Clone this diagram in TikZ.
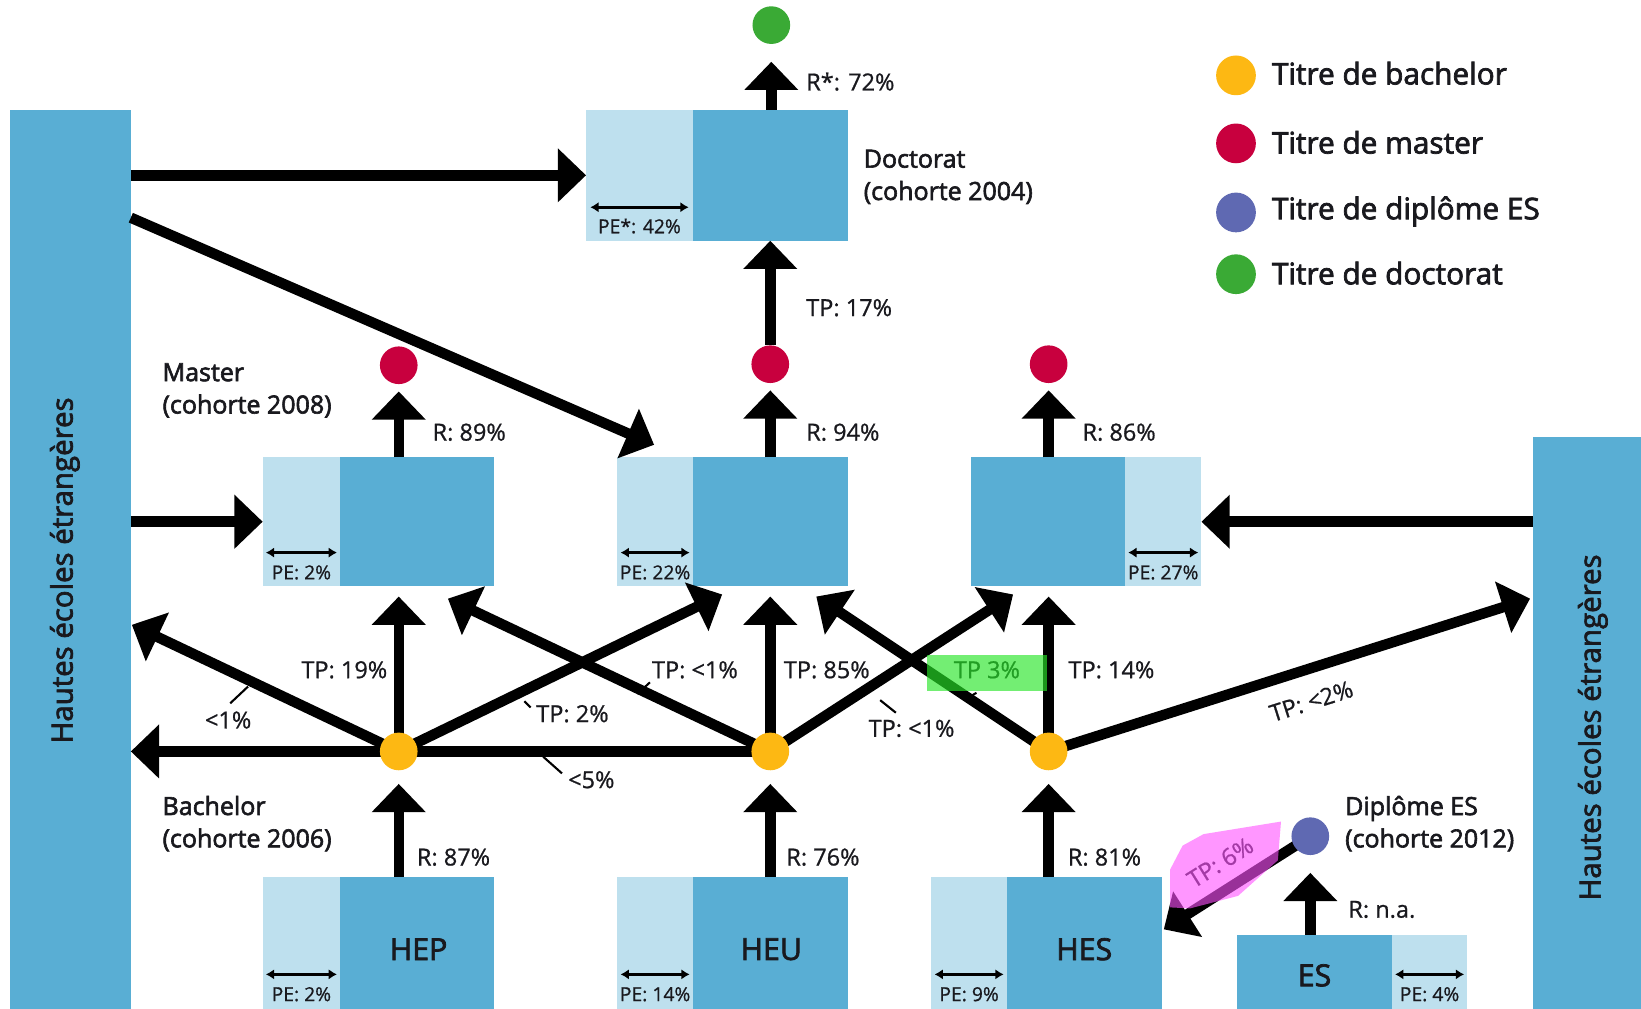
\documentclass[tikz,border=0pt]{standalone}
\usepackage{fontspec}
\setmainfont{Open Sans}[FakeBold=0.8]
\newfontfamily\semib{Open Sans}[FakeBold=2.4]
\usetikzlibrary{arrows.meta,fit}
\definecolor{dkblue}{RGB}{89,174,212}
\definecolor{ltblue}{RGB}{190,224,238}
\definecolor{bachy}{RGB}{253,184,19}
\definecolor{mastr}{RGB}{200,0,62}
\definecolor{esdot}{RGB}{95,105,178}
\definecolor{docg}{RGB}{58,170,53}
\definecolor{hlgreen}{RGB}{40,230,40}
\definecolor{hlpink}{RGB}{255,80,255}
\definecolor{txt}{RGB}{25,25,30}
\pgfdeclarelayer{back}
\pgfdeclarelayer{mid}
\pgfdeclarelayer{top}
\pgfsetlayers{back,mid,main,top}
\begin{document}
\begin{tikzpicture}[x=0.02cm,y=-0.02cm,
  dbox/.style={fill=dkblue,draw=none,inner sep=0,outer sep=0},
  lbox/.style={fill=ltblue,draw=none,inner sep=0,outer sep=0},
  dot/.style={circle,draw=none,inner sep=0,outer sep=0,minimum size=0.72cm},
  legdot/.style={circle,draw=none,inner sep=0,outer sep=0,minimum size=0.76cm},
  flow/.style={line width=0.2cm,-{Triangle[width=1cm,length=0.54cm]}},
  tick/.style={line width=0.04cm},
  pearrow/.style={line width=0.05cm,{Latex[width=0.2cm,length=0.16cm]}-{Latex[width=0.2cm,length=0.16cm]}},
  flowlbl/.style={font=\fontsize{12.8}{15}\selectfont,text=txt,inner sep=0},
  cohort/.style={font=\semib\fontsize{13.6}{17.6}\selectfont,text=txt,align=left,anchor=west,inner sep=0},
  leglbl/.style={font=\semib\fontsize{16.2}{18}\selectfont,text=txt,anchor=west,inner sep=0},
  boxlbl/.style={font=\semib\fontsize{16.5}{18}\selectfont,text=txt,inner sep=0},
  pelbl/.style={font=\fontsize{10.5}{12}\selectfont,text=txt,inner sep=0},
  barlbl/.style={font=\semib\fontsize{16}{18}\selectfont,text=txt,rotate=90,inner sep=0}]
\useasboundingbox (0,0) rectangle (1568,964);

\begin{pgfonlayer}{back}
\fill[white] (0,0) rectangle (1568,964);
% bars
\node[dbox,fit={(10,105) (125,964)}] (lbar) {};
\node[dbox,fit={(1465,418) (1568,964)}] (rbar) {};
% doctorat
\node[lbox,fit={(560,105) (662,230)}] (docpe) {};
\node[dbox,fit={(662,105) (810,230)}] (doc) {};
% master
\node[lbox,fit={(251,437) (325,560)}] (mheppe) {};
\node[dbox,fit={(325,437) (472,560)}] (mhep) {};
\node[lbox,fit={(590,437) (662,560)}] (mheupe) {};
\node[dbox,fit={(662,437) (810,560)}] (mheu) {};
\node[dbox,fit={(928,437) (1075,560)}] (mhes) {};
\node[lbox,fit={(1075,437) (1148,560)}] (mhespe) {};
% bachelor / ES
\node[lbox,fit={(251,838) (325,964)}] (bheppe) {};
\node[dbox,fit={(325,838) (472,964)}] (bhep) {};
\node[lbox,fit={(590,838) (662,964)}] (bheupe) {};
\node[dbox,fit={(662,838) (810,964)}] (bheu) {};
\node[lbox,fit={(890,838) (962,964)}] (bhespe) {};
\node[dbox,fit={(962,838) (1110,964)}] (bhes) {};
\node[dbox,fit={(1182,893) (1330,964)}] (es) {};
\node[lbox,fit={(1330,893) (1402,964)}] (espe) {};
\end{pgfonlayer}

% dots
\node[dot,fill=docg] (gdoc) at (737,24) {};
\node[dot,fill=mastr] (rhep) at (381,349) {};
\node[dot,fill=mastr] (rheu) at (736,348) {};
\node[dot,fill=mastr] (rhes) at (1002,348) {};
\node[dot,fill=bachy] (yhep) at (381,718) {};
\node[dot,fill=bachy] (yheu) at (736,718) {};
\node[dot,fill=bachy] (yhes) at (1002,718) {};
\node[dot,fill=esdot] (pes) at (1252,799) {};

% arrow tips
\coordinate (tA) at (126,597);
\coordinate (tB) at (381,570);
\coordinate (tC) at (690,568);
\coordinate (tD) at (428,572);
\coordinate (tE) at (736,570);
\coordinate (tF) at (968,568);
\coordinate (tG) at (780,570);
\coordinate (tH) at (1002,570);
\coordinate (tI) at (1462,572);
\coordinate (tJ) at (1112,888);
\coordinate (tK) at (625,425);
\coordinate (sK) at (125,208);

\begin{pgfonlayer}{mid}
% doctorate
\draw[flow,shorten >=0.34cm] (doc.north -| gdoc) -- (gdoc);
\draw[flow] (rheu) -- (doc.south -| rheu);
% master -> titles
\draw[flow,shorten >=0.14cm] (mhep.north -| rhep) -- (rhep);
\draw[flow,shorten >=0.14cm] (mheu.north -| rheu) -- (rheu);
\draw[flow,shorten >=0.14cm] (mhes.north -| rhes) -- (rhes);
% foreign
\draw[flow] (lbar.east |- docpe.west) -- (docpe.west);
\draw[flow] (sK) -- (tK);
\draw[flow] (lbar.east |- mheppe.west) -- (mheppe.west);
\draw[flow] (rbar.west |- mhespe.east) -- (mhespe.east);
% bachelor boxes -> titles
\draw[flow,shorten >=0.26cm] (bhep.north -| yhep) -- (yhep);
\draw[flow,shorten >=0.26cm] (bheu.north -| yheu) -- (yheu);
\draw[flow,shorten >=0.26cm] (bhes.north -| yhes) -- (yhes);
\draw[flow,shorten >=0.34cm] (es.north -| pes) -- (pes);
% transitions
\draw[flow] (yheu.center) -- (lbar.east |- yheu);
\draw[flow] (yhep.center) -- (tA);
\draw[flow] (yhep.center) -- (tB);
\draw[flow] (yhep.center) -- (tC);
\draw[flow] (yheu.center) -- (tD);
\draw[flow] (yheu.center) -- (tE);
\draw[flow] (yheu.center) -- (tF);
\draw[flow] (yhes.center) -- (tG);
\draw[flow] (yhes.center) -- (tH);
\draw[flow] (yhes.center) -- (tI);
\draw[flow] (pes.center) -- (tJ);
% ticks
\draw[tick] (220,672) -- (237,656);
\draw[tick] (501,670) -- (507,676);
\draw[tick] (519,723) -- (537,739);
\draw[tick] (609,663) -- (621,652);
\draw[tick] (841,669) -- (856,681);
\draw[tick] (921,669) -- (933,662);
% PE markers
\draw[pearrow] ([shift={(4,-32)}]docpe.south west) -- ([shift={(-4,-32)}]docpe.south east);
\draw[pearrow] ([shift={(3,-32)}]mheppe.south west) -- ([shift={(-3,-32)}]mheppe.south east);
\draw[pearrow] ([shift={(3,-32)}]mheupe.south west) -- ([shift={(-3,-32)}]mheupe.south east);
\draw[pearrow] ([shift={(3,-32)}]mhespe.south west) -- ([shift={(-3,-32)}]mhespe.south east);
\draw[pearrow] ([shift={(3,-33)}]bheppe.south west) -- ([shift={(-3,-33)}]bheppe.south east);
\draw[pearrow] ([shift={(3,-33)}]bheupe.south west) -- ([shift={(-3,-33)}]bheupe.south east);
\draw[pearrow] ([shift={(3,-33)}]bhespe.south west) -- ([shift={(-3,-33)}]bhespe.south east);
\draw[pearrow] ([shift={(3,-33)}]espe.south west) -- ([shift={(-3,-33)}]espe.south east);
\end{pgfonlayer}

% PE labels
\node[pelbl] at ([shift={(0,-14)}]docpe.south) {PE*: 42\%};
\node[pelbl] at ([shift={(0,-13)}]mheppe.south) {PE: 2\%};
\node[pelbl] at ([shift={(0,-13)}]mheupe.south) {PE: 22\%};
\node[pelbl] at ([shift={(0,-13)}]mhespe.south) {PE: 27\%};
\node[pelbl] at ([shift={(0,-14)}]bheppe.south) {PE: 2\%};
\node[pelbl] at ([shift={(0,-14)}]bheupe.south) {PE: 14\%};
\node[pelbl] at ([shift={(0,-14)}]bhespe.south) {PE: 9\%};
\node[pelbl] at ([shift={(0,-14)}]espe.south) {PE: 4\%};

% box labels
\node[boxlbl] (lhep) at (400,907) {HEP};
\node[boxlbl] (lheu) at (737,907) {HEU};
\node[boxlbl] (lhes) at (1036,907) {HES};
\node[boxlbl] (les) at (1256,932) {ES};
\node[barlbl] (lbarl) at (62,545) {Hautes écoles étrangères};
\node[barlbl] (rbarl) at (1522,695) {Hautes écoles étrangères};

% cohort labels
\node[cohort] (cdoc) at (825,169) {Doctorat\\(cohorte 2004)};
\node[cohort] (cmas) at (155,373) {Master\\(cohorte 2008)};
\node[cohort] (cbac) at (155,787) {Bachelor\\(cohorte 2006)};
\node[cohort] (ces) at (1285,787) {Diplôme ES\\(cohorte 2012)};

% flow labels
\node[flowlbl,anchor=west] (l1) at (770,78) {R*: 72\%};
\node[flowlbl,anchor=west] (l2) at (770,294) {TP: 17\%};
\node[flowlbl,anchor=west] (l3) at (413,413) {R: 89\%};
\node[flowlbl,anchor=west] (l4) at (770,413) {R: 94\%};
\node[flowlbl,anchor=west] (l5) at (1034,413) {R: 86\%};
\node[flowlbl] (l6) at (329,640) {TP: 19\%};
\node[flowlbl] (l7) at (218,688) {<1\%};
\node[flowlbl] (l8) at (547,682) {TP: 2\%};
\node[flowlbl] (l9) at (565,745) {<5\%};
\node[flowlbl] (l10) at (664,640) {TP: <1\%};
\node[flowlbl] (l11) at (790,640) {TP: 85\%};
\node[flowlbl] (l12) at (871,696) {TP: <1\%};
\node[flowlbl] (l13) at (943,640) {TP 3\%};
\node[flowlbl] (l14) at (1062,640) {TP: 14\%};
\node[flowlbl,rotate=17.6] (l15) at (1253,670) {TP: <2\%};
\node[flowlbl,anchor=west] (l16) at (398,819) {R: 87\%};
\node[flowlbl,anchor=west] (l17) at (751,819) {R: 76\%};
\node[flowlbl,anchor=west] (l18) at (1020,819) {R: 81\%};
\node[flowlbl,anchor=west] (l19) at (1288,869) {R: n.a.};
\node[flowlbl,rotate=32] (l20) at (1166,824) {TP: 6\%};

% legend
\node[legdot,fill=bachy] (g1) at (1181,72) {};
\node[legdot,fill=mastr] (g2) at (1181,137) {};
\node[legdot,fill=esdot] (g3) at (1181,203) {};
\node[legdot,fill=docg] (g4) at (1181,262) {};
\node[leglbl] (t1) at (1215,70) {Titre de bachelor};
\node[leglbl] (t2) at (1215,136) {Titre de master};
\node[leglbl] (t3) at (1215,202) {Titre de diplôme ES};
\node[leglbl] (t4) at (1215,261) {Titre de doctorat};

% highlights
\begin{pgfonlayer}{top}
\fill[hlgreen,opacity=0.65] (886,626) rectangle (1000,660);
\fill[hlpink,opacity=0.6] (1118,867) -- (1118,831) -- (1130,808) -- (1150,797) -- (1224,785) -- (1221,822) -- (1183,856) -- (1137,868) -- cycle;
\end{pgfonlayer}
\end{tikzpicture}
\end{document}
